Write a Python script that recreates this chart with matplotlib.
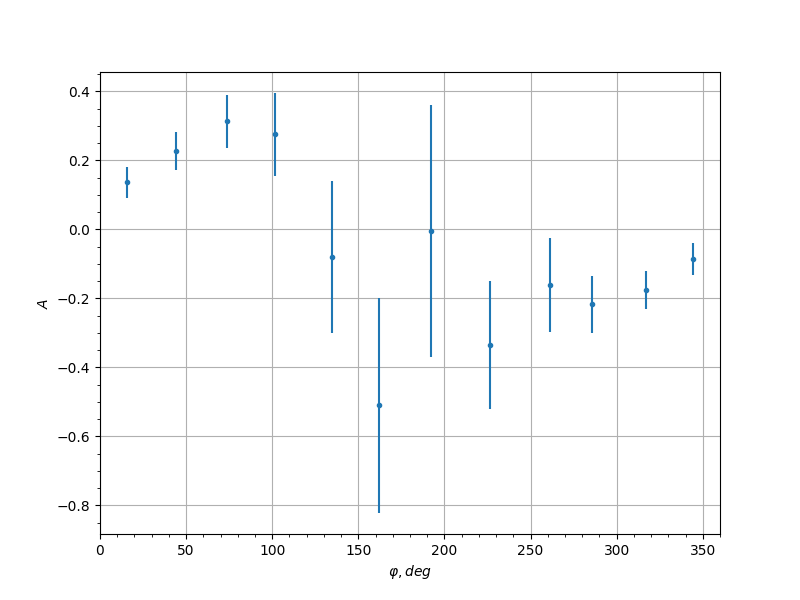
import matplotlib
matplotlib.use("Agg")
import matplotlib.pyplot as plt
import numpy as np

# angle (deg), asymmetry and its error
phi = [15.7, 44.2, 73.8, 101.7, 134.9, 162.2, 192.4, 226.2, 261.0, 285.5, 316.9, 344.2]
A = [0.136, 0.226, 0.313, 0.275, -0.081, -0.510, -0.006, -0.336, -0.162, -0.217, -0.177, -0.087]
A_err = [0.046, 0.055, 0.077, 0.120, 0.220, 0.312, 0.365, 0.186, 0.136, 0.083, 0.055, 0.046]

fig, ax = plt.subplots(figsize=(8, 6), dpi=100)
ax.errorbar(phi, A, yerr=A_err, fmt=".")
ax.set_xlim(0, 360)
ax.set_xlabel(r"$\varphi, deg$")
ax.set_ylabel(r"$A$")
ax.minorticks_on()
ax.grid(which="major")

fig.savefig("out.png")
